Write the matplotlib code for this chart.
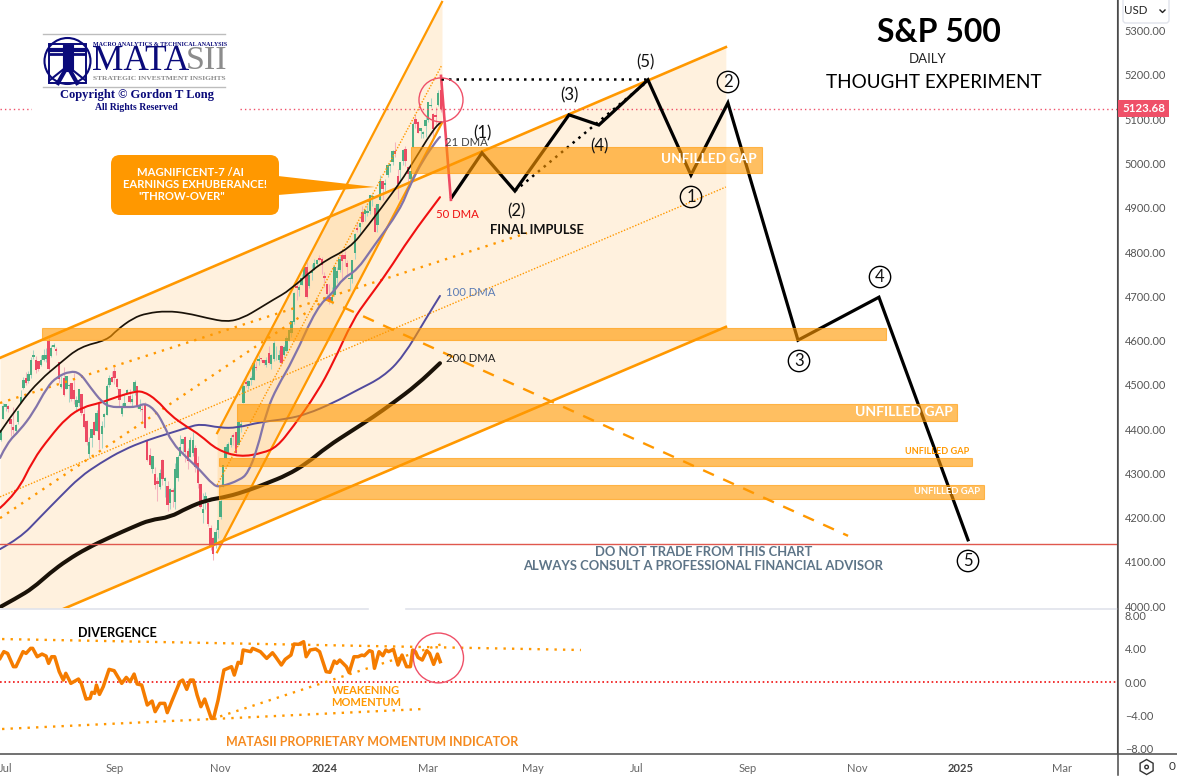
import matplotlib
matplotlib.use("Agg")
import matplotlib.pyplot as plt
from matplotlib.patches import Rectangle, Ellipse, Circle, Polygon, FancyBboxPatch, RegularPolygon, PathPatch
from matplotlib.path import Path
from matplotlib.transforms import Affine2D

plt.rcParams['font.family'] = ['Lato', 'DejaVu Sans']

# ---------------- data (x = session number, y = price) ----------------
opens = [4367,4375,4422,4450,4450,4422,4404,4395,4416,4459,4492,4514,4508,4522,4563,4554,4552,4544,4556,4558,4598,4565,4585,4579,4550,4495,4514,4491,4498,4502,4488,4450,4459,4478,4433,4416,4344,4381,4415,4396,4456,4389,4427,4433,4500,4517,4530,4511,4490,4434,4451,4480,4473,4462,4487,4497,4445,4445,4452,4374,4341,4310,4297,4282,4270,4328,4284,4269,4233,4260,4235,4289,4339,4366,4380,4350,4338,4345,4357,4322,4274,4210,4235,4232,4176,4152,4140,4172,4201,4269,4334,4346,4365,4385,4391,4365,4406,4458,4505,4497,4510,4512,4539,4553,4560,4554,4546,4571,4548,4559,4569,4557,4586,4567,4576,4600,4618,4642,4722,4714,4725,4744,4765,4724,4753,4759,4773,4786,4782,4745,4726,4698,4690,4703,4741,4760,4792,4791,4773,4739,4739,4797,4853,4856,4888,4886,4889,4892,4925,4899,4862,4917,4958,4951,4973,4995,5004,5026,4970,4986,5006,5031,4990,4964,5038,5100,5093,5074,5067,5085,5098,5130,5110,5109,5132,5164]
highs = [4377,4398,4458,4457,4454,4423,4449,4412,4443,4488,4517,4528,4532,4563,4578,4565,4555,4567,4582,4583,4607,4590,4595,4585,4551,4520,4540,4519,4502,4503,4527,4476,4491,4479,4449,4421,4382,4401,4419,4444,4459,4419,4437,4501,4522,4532,4541,4516,4491,4458,4480,4491,4491,4479,4511,4498,4467,4457,4461,4375,4357,4339,4315,4292,4311,4333,4291,4282,4268,4268,4324,4341,4386,4378,4385,4357,4383,4394,4364,4339,4276,4256,4259,4233,4183,4156,4177,4195,4245,4318,4366,4372,4386,4391,4393,4415,4421,4503,4521,4511,4521,4557,4554,4568,4561,4555,4562,4587,4570,4600,4587,4579,4590,4590,4610,4623,4643,4709,4739,4726,4750,4768,4778,4749,4772,4785,4785,4794,4789,4754,4729,4727,4721,4765,4766,4791,4798,4803,4782,4745,4783,4842,4868,4866,4903,4898,4907,4929,4932,4907,4907,4975,4958,4965,5000,5000,5030,5048,4987,5002,5032,5039,4994,4983,5093,5111,5097,5080,5074,5104,5140,5149,5114,5127,5166,5189]
lows = [4362,4374,4422,4442,4438,4385,4390,4390,4412,4458,4490,4499,4504,4516,4558,4527,4531,4543,4555,4552,4528,4564,4584,4567,4505,4494,4474,4491,4461,4463,4457,4444,4453,4432,4403,4364,4335,4360,4386,4396,4356,4357,4404,4431,4496,4507,4501,4491,4453,4430,4449,4480,4459,4449,4478,4447,4442,4416,4401,4329,4316,4302,4264,4238,4264,4274,4246,4216,4220,4225,4219,4283,4339,4345,4325,4311,4338,4339,4303,4268,4223,4189,4219,4181,4127,4104,4132,4153,4198,4269,4334,4345,4360,4365,4344,4364,4393,4458,4495,4491,4499,4510,4533,4546,4554,4545,4540,4547,4537,4554,4557,4552,4546,4565,4574,4599,4608,4637,4691,4700,4725,4743,4697,4719,4737,4759,4769,4780,4751,4722,4699,4682,4682,4700,4730,4756,4740,4769,4748,4715,4731,4785,4845,4842,4865,4870,4881,4887,4904,4845,4845,4917,4918,4937,4970,4980,4997,5015,4921,4957,4997,4995,4955,4946,5038,5081,5068,5057,5057,5061,5094,5128,5056,5086,5131,5117]
closes = [4376,4396,4450,4455,4446,4411,4399,4409,4439,4472,4510,4505,4522,4555,4565,4534,4536,4554,4567,4566,4537,4582,4588,4576,4513,4501,4478,4518,4499,4467,4468,4464,4489,4437,4404,4370,4369,4399,4387,4436,4376,4405,4433,4497,4514,4507,4515,4496,4465,4451,4457,4487,4461,4467,4505,4450,4453,4443,4402,4330,4320,4337,4274,4275,4300,4288,4288,4229,4263,4258,4309,4336,4358,4377,4349,4327,4373,4373,4315,4278,4224,4217,4248,4186,4137,4117,4166,4194,4237,4317,4358,4365,4378,4383,4347,4415,4411,4496,4502,4508,4514,4547,4538,4556,4559,4550,4554,4550,4567,4594,4569,4567,4549,4585,4604,4622,4643,4707,4719,4719,4740,4768,4698,4746,4755,4774,4781,4783,4770,4742,4705,4688,4697,4764,4756,4783,4780,4784,4766,4739,4781,4840,4850,4864,4868,4894,4891,4928,4925,4846,4906,4959,4942,4954,4995,4998,5026,5022,4953,5001,5030,5006,4976,4982,5087,5089,5070,5078,5070,5096,5137,5131,5079,5105,5157,5123]

ma_black_x = [0.8,8.7,16.6,24.5,32.4,43.1,47,53.4,58.9,66.8,74.7,82.6,90.5,96.8,103.6,108.7,115.4,127.3,139.1,145.9,157.7,162.9,171.9,175.1]
ma_black_y = [4393,4459,4511,4549,4586,4601,4624,4651,4662,4667,4662,4651,4642,4651,4674,4692,4714,4775,4809,4857,4947,4992,5076,5094]
ma_21_x = [0.8,3.6,8.7,13.8,19.4,23.3,28.5,32.4,36.4,41.1,44.3,49.4,54.9,58.1,62.1,65.2,68.8,74.7,79.8,85,87.7,95.6,98.8,102.4,106.3,110.3,116.6,126.1,132.4,136.4,141.9,148.2,158.9,162.9,168,173.5,174.7]
ma_21_y = [4335,4369,4398,4436,4495,4518,4531,4527,4495,4461,4450,4450,4450,4459,4443,4414,4369,4335,4308,4274,4269,4285,4301,4353,4443,4495,4556,4676,4708,4741,4759,4811,4895,4952,5008,5053,5060]
ma_50_x = [0.8,7.5,13.8,20.5,27.3,33.6,40.3,47,53.4,57.3,62.8,68,74.7,79.8,86.6,95.6,104.7,110.3,116.6,126.1,132.4,140.3,145.9,153.8,162.9,174.7]
ma_50_y = [4222,4256,4330,4382,4427,4450,4459,4473,4484,4486,4466,4432,4405,4387,4353,4337,4346,4360,4405,4482,4549,4647,4692,4753,4834,4924]
ma_100_x = [0.8,8.7,16.6,24.5,32.4,40.3,49.4,58.9,66.8,74.7,79.8,87.7,94.5,103.6,114.2,122.1,132.4,141.9,152.2,160.1,169.5,174.7]
ma_100_y = [4129,4154,4201,4247,4292,4323,4353,4375,4389,4403,4412,4403,4403,4416,4423,4434,4459,4488,4518,4563,4653,4701]
ma_200_x = [0.8,7.5,13.8,20.5,27.3,35.2,44.3,53.4,60.1,68,74.7,82.6,90.5,99.6,106.3,114.2,122.1,130,140.3,148.2,156.1,165.6,174.7]
ma_200_y = [3998,4019,4041,4075,4104,4131,4156,4179,4195,4201,4222,4240,4247,4263,4278,4296,4323,4360,4398,4427,4459,4500,4549]

path_x = [179.4,191.3,204.3,225.7,237.5,256.9,273.9,288.5,316.2,348.2,383.4]
path_y = [4924,5024,4938,5110,5087,5189,4974,5137,4601,4698,4150]
drop_x = [175.1,179]
drop_y = [5198,4918]

channel_x = [0.8,287.7]
channel_up = [4561,5263]
channel_mid = [4247,4947]
channel_lo = [3933,4631]
steep_x = [86.6,175.5]
steep_up = [4391,5365]
steep_mid = [4274,5223]
steep_lo = [4122,5092]
dot_b_x = [0.8,209.1]; dot_b_y = [4459,4843]
dot_c_x = [0.8,130.4]; dot_c_y = [4199,4696]
dash_x = [128.5,336]; dash_y = [4696,4159]
top_dot_x = [175.1,256.9]; top_dot_y = [5191,5191]
diag_dot_x = [204.3,255.5]; diag_dot_y = [4938,5180]

gap_x0 = [17.4,163.2,94.5,87.4,87.4]
gap_x1 = [351,302,379,385,389.7]
gap_lo = [4601,4979,4418,4317,4242]
gap_hi = [4628.5,5037,4457,4335,4274]

last_price = 5123.68
support = 4141.6
price_ticks = [4000,4100,4200,4300,4400,4500,4600,4700,4800,4900,5000,5100,5200,5300]
mom_ticks = [-8,-4,0,4,8]
time_ticks = [3,46,88,129,170,211.5,252.6,296.4,339.5,380.6,420.4]
time_labels = ['Jul','Sep','Nov','2024','Mar','May','Jul','Sep','Nov','2025','Mar']

mom_x = [0.8,2.3,3.8,6.1,7.1,9.9,11.1,12.9,13.7,15.5,17.4,19.0,20.0,21.2,22.4,24.2,25.8,26.8,28.8,31.8,32.9,34.8,36.4,37.1,38.2,38.9,40.1,41.6,43.9,45.9,48.9,50.7,52.2,53.8,55.0,56.8,59.0,60.9,62.1,64.0,65.9,66.9,68.9,71.9,73.0,74.6,76.0,77.2,78.7,80.2,81.7,84.3,85.2,87.0,89.3,92.3,93.4,94.9,96.1,96.9,99.9,100.6,102.2,103.7,106.2,108.5,109.7,112.0,113.5,115.8,117.0,118.8,120.8,121.8,123.4,125.6,127.1,129.7,131.2,132.9,133.9,135.1,137.7,138.8,140.7,142.3,143.8,144.8,146.8,147.9,148.8,150.6,152.1,153.3,154.4,156.3,158.1,159.7,161.5,163.0,163.9,165.0,166.0,167.7,169.5,170.6,172.2,173.7,174.8]
mom_y = [2.85,3.66,3.45,1.85,1.85,3.66,3.45,4.06,4.06,3.05,3.37,3.13,2.25,3.05,3.05,1.25,0.24,1.05,-0.16,0.36,-0.16,-2.05,-1.97,-1.24,-1.36,-0.36,-1.49,-0.56,1.53,1.37,-0.16,0.56,0.04,0.96,-0.24,-0.36,-2.77,-2.29,-3.57,-2.57,-2.57,-3.69,-2.17,0.04,0.24,-0.88,0.24,0.24,-1.57,-2.97,-2.05,-4.38,-4.38,-2.17,1.45,1.85,0.84,2.37,2.25,3.86,3.66,4.06,3.86,3.66,2.85,3.53,3.05,2.05,2.73,3.25,4.58,4.54,4.86,3.05,3.86,3.98,3.66,1.25,1.17,2.53,2.25,2.65,1.85,1.13,3.05,3.05,3.25,3.17,3.78,3.66,1.65,3.66,3.17,3.86,3.66,3.94,2.05,3.25,1.85,1.85,3.86,3.66,2.97,2.65,3.78,3.45,2.13,3.37,2.45]
mom_top_x = [1.6,230.4]; mom_top_y = [5.18,3.86]
mom_bot_x = [1.6,168]; mom_bot_y = [-5.66,-3.25]
mom_rise_x = [84.6,176.7]; mom_rise_y = [-4.46,4.7]

# ---------------- colours ----------------
ORANGE = '#ff9800'
UP, DOWN = '#4bae83', '#ec4a63'
UPW, DOWNW = '#a5d6c6', '#f5b3bd'

W, H = 1177, 781
fig = plt.figure(figsize=(W/100, H/100), dpi=100, facecolor='white')
ax = fig.add_axes([0, 1-608/H, 1117/W, 608/H])
axm = fig.add_axes([0, 28/H, 1117/W, 144/H])
pxT = Affine2D().scale(1, -1).translate(0, H)

def setup(a):
    a.set_xlim(0.79, 442.3)
    for s in ['top','left','bottom']:
        a.spines[s].set_visible(False)
    a.spines['right'].set_color('#4a4a4a')
    a.yaxis.tick_right()
    a.tick_params(axis='y', length=0, pad=5.5, labelsize=7.9, labelcolor='#555555')
    a.tick_params(axis='x', length=0)
setup(ax); setup(axm)
ax.set_ylim(3996, 5369.4)
axm.set_ylim(-8.55, 8.8)
ax.set_xticks([])
ax.set_yticks(price_ticks, [f'{v:.2f}' for v in price_ticks])
axm.set_yticks(mom_ticks, [f'{v:.2f}'.replace('-', '\u2212') for v in mom_ticks])
axm.set_xticks(time_ticks, time_labels)
axm.tick_params(axis='x', pad=7.5, labelsize=8, labelcolor='#666666')
for t, l in zip(axm.get_xticklabels(), time_labels):
    if l.startswith('20'):
        t.set_fontweight('bold'); t.set_color('#444444')

# fills
ax.fill_between(channel_x, channel_lo, channel_up, color=ORANGE, alpha=0.13, lw=0, zorder=1)
ax.fill_between(steep_x, steep_lo, steep_up, color=ORANGE, alpha=0.14, lw=0, zorder=1)

# candles
xs = list(range(len(closes)))
up = [c >= o for o, c in zip(opens, closes)]
ax.vlines(xs, lows, highs, colors=[UPW if u else DOWNW for u in up], lw=0.75, zorder=2)
ax.bar(xs, [abs(c-o) + 1.5 for o, c in zip(opens, closes)], bottom=[min(o, c) for o, c in zip(opens, closes)],
       width=0.95, color=[UP if u else DOWN for u in up], lw=0, zorder=3)

# channels and dotted guides
dot = (0, (1, 2.6))
ax.plot(channel_x, channel_up, color=ORANGE, lw=1.9, zorder=4)
ax.plot(channel_x, channel_lo, color=ORANGE, lw=1.9, zorder=4)
ax.plot(channel_x, channel_mid, color=ORANGE, lw=1.0, ls=(0, (1, 1.2)), zorder=4)
ax.plot(steep_x, steep_up, color=ORANGE, lw=1.6, zorder=4)
ax.plot(steep_x, steep_lo, color=ORANGE, lw=1.6, zorder=4)
ax.plot(steep_x, steep_mid, color=ORANGE, lw=1.0, ls=(0, (1, 1.2)), zorder=4)
ax.plot(dot_b_x, dot_b_y, color=ORANGE, lw=1.7, ls=dot, zorder=4)
ax.plot(dot_c_x, dot_c_y, color=ORANGE, lw=1.7, ls=dot, zorder=4)
ax.plot(dash_x, dash_y, color=ORANGE, lw=1.7, ls=(0, (5, 4.3)), zorder=4)

# moving averages, stroked as curves through the values
def curve(a, xv, yv, **kw):
    verts, codes = [(xv[0], yv[0])], [Path.MOVETO]
    for i in range(1, len(xv) - 1):
        verts += [(xv[i], yv[i]), ((xv[i] + xv[i+1]) / 2, (yv[i] + yv[i+1]) / 2)]
        codes += [Path.CURVE3, Path.CURVE3]
    verts.append((xv[-1], yv[-1])); codes.append(Path.LINETO)
    a.add_patch(PathPatch(Path(verts, codes), fc='none', capstyle='round', **kw))

curve(ax, ma_200_x, ma_200_y, ec='#1a1208', lw=2.9, zorder=5)
curve(ax, ma_100_x, ma_100_y, ec='#514a9d', lw=1.4, zorder=5)
curve(ax, ma_50_x, ma_50_y, ec='#f01010', lw=1.5, zorder=5)
curve(ax, ma_21_x, ma_21_y, ec='#8274aa', lw=1.6, zorder=5)
curve(ax, ma_black_x, ma_black_y, ec='#1a1208', lw=1.25, zorder=5)

# levels
ax.axhline(support, color='#e0584e', lw=1, zorder=5)
ax.axhline(last_price, color='#ef5068', lw=1, ls=(0, (1, 2.2)), zorder=5)

# projection
ax.plot(path_x, path_y, color='black', lw=2.3, zorder=6, solid_joinstyle='miter')
ax.plot(drop_x, drop_y, color='#ef4a63', lw=1.9, zorder=6)
ax.plot(top_dot_x, top_dot_y, color='black', lw=1.8, ls=(0, (1, 2)), zorder=6)
ax.plot(diag_dot_x, diag_dot_y, color='black', lw=1.8, ls=(0, (1, 2)), zorder=6)

ax.add_patch(Ellipse((175.1, last_price+20), 17.4, 99.4, fc='none', ec='#ef5068', lw=1, zorder=7))

# gap bands
for x0, x1, lo, hi in zip(gap_x0, gap_x1, gap_lo, gap_hi):
    ax.add_patch(Rectangle((x0, lo), x1-x0, hi-lo, fc=ORANGE, ec=ORANGE, alpha=0.62, lw=0.8, zorder=8))

# momentum panel
axm.axhline(0, color='#f01010', lw=1.2, ls=(0, (1, 1.6)), zorder=1)
axm.plot(mom_top_x, mom_top_y, color=ORANGE, lw=1.7, ls=dot, zorder=2)
axm.plot(mom_bot_x, mom_bot_y, color=ORANGE, lw=1.7, ls=dot, zorder=2)
axm.plot(mom_rise_x, mom_rise_y, color=ORANGE, lw=1.7, ls=dot, zorder=2)
axm.plot(mom_x, mom_y, color='#f57c00', lw=2.5, zorder=3, solid_joinstyle='round')
axm.add_patch(Ellipse((174.1, 2.9), 19.8, 6.0, fc='none', ec='#ef5068', lw=1, zorder=4))

def T(x, y, s, size, color='black', weight='normal', ha='center', family=None, z=20):
    kw = dict(fontfamily=family) if family else {}
    return fig.text(x, y, s, transform=pxT, fontsize=size, color=color, fontweight=weight,
                    ha=ha, va='center', zorder=z, **kw)

# frame lines
fig.add_artist(plt.Line2D([0, 368], [608.5, 608.5], transform=pxT, color='#e0e3eb', lw=1.2))
fig.add_artist(plt.Line2D([406, 1117], [608.5, 608.5], transform=pxT, color='#e0e3eb', lw=1.2))
fig.add_artist(plt.Line2D([0, 1177], [753.5, 753.5], transform=pxT, color='#4a4a4a', lw=1.1))
fig.add_artist(plt.Line2D([1117.5, 1117.5], [0, 775], transform=pxT, color='#4a4a4a', lw=1.1))

# price tag
fig.add_artist(Rectangle((1118, 100), 51, 16.7, transform=pxT, fc='#ef5068', ec='none', zorder=15))
T(1144, 108.5, '5123.68', 8.3, 'white', 'bold')

# USD button
fig.add_artist(FancyBboxPatch((1123, -5), 46, 28, boxstyle='round,pad=0,rounding_size=3', transform=pxT,
                              fc='white', ec='#e0e3eb', lw=1, zorder=15))
T(1136, 11, 'USD', 8.3, '#222222')
fig.add_artist(plt.Line2D([1160, 1162.5, 1165], [10, 12.5, 10], transform=pxT, color='#222222', lw=1, zorder=16))
fig.add_artist(RegularPolygon((1146.6, 767), 6, radius=7.5, transform=pxT, fc='none', ec='#333333', lw=1, zorder=16))
fig.add_artist(Circle((1146.6, 767), 1.8, transform=pxT, fc='none', ec='#333333', lw=1, zorder=16))
T(1169, 767, '0', 8.5, '#333333', ha='left')

# titles
T(939, 32, 'S&P 500', 23, 'black', 'bold')
T(928, 59, 'DAILY', 9.5, '#222222')
T(934, 82, 'THOUGHT EXPERIMENT', 13.6, 'black')

# logo
fig.add_artist(Rectangle((32, 30), 208, 88, transform=pxT, fc='white', ec='none', zorder=10))
navy, serif = '#0a0a7a', 'Liberation Serif'
for yy in (34, 87):
    fig.add_artist(plt.Line2D([43, 225], [yy, yy], transform=pxT, color='#bdbdbd', lw=1, zorder=11))
fig.add_artist(Circle((67.5, 61), 23, transform=pxT, fc='none', ec=navy, lw=1.5, zorder=11))
fig.add_artist(Rectangle((49, 44), 37, 39, transform=pxT, fc='none', ec=navy, lw=1.4, zorder=11))
for xa, ya, xb, yb, lw in [(50, 50, 85, 50, 3), (50, 54, 85, 54, 2), (67.5, 50, 67.5, 66, 8),
                           (67.5, 66, 58, 83, 3), (67.5, 66, 77, 83, 3), (67.5, 66, 50, 80, 1.5), (67.5, 66, 85, 80, 1.5)]:
    fig.add_artist(plt.Line2D([xa, xb], [ya, yb], transform=pxT, color=navy, lw=lw, zorder=11))
T(93, 45, 'MACRO ANALYTICS & TECHNICAL ANALYSIS', 4.3, navy, 'bold', 'left', serif)
T(92, 61, 'MATA', 25.5, navy, 'normal', 'left', serif)
T(186, 61, 'SII', 24.5, '#8c8c8c', 'normal', 'left', serif)
T(93, 78.5, 'STRATEGIC INVESTMENT INSIGHTS', 5.4, '#8c8c8c', 'bold', 'left', serif)
T(137, 95, 'Copyright \u00a9 Gordon T Long', 9, navy, 'bold', 'center', serif)
T(136, 108, 'All Rights Reserved', 7, navy, 'bold', 'center', serif)

# callout
fig.add_artist(Polygon([(278, 176), (375, 187), (278, 195)], transform=pxT, fc=ORANGE, ec='none', zorder=12))
fig.add_artist(FancyBboxPatch((111, 155), 168, 60, boxstyle='round,pad=0,rounding_size=9', transform=pxT,
                              fc=ORANGE, ec='none', zorder=12))
T(190, 173, 'MAGNIFICENT-7 /AI', 8.1, 'white', 'bold')
T(195, 185, 'EARNINGS EXHUBERANCE!', 8.1, 'white', 'bold')
T(182, 197, '"THROW-OVER"', 8.1, 'white', 'bold')

# MA labels
T(445, 142, '21 DMA', 8.2, '#444444', ha='left')
T(436, 214, '50 DMA', 8.2, '#f01010', ha='left')
T(446, 293, '100 DMA', 8.2, '#5b7cb5', ha='left')
T(446, 358, '200 DMA', 8.2, '#222222', ha='left')
T(537, 230, 'FINAL IMPULSE', 9.3, '#111111', 'bold')

# wave labels
for x, y, s in [(482, 133, '(1)'), (516, 211, '(2)'), (569, 95, '(3)'), (599, 146, '(4)'), (645, 62, '(5)')]:
    T(x, y, s, 12, '#111111')
for x, y, s in [(691, 197, '1'), (728, 82, '2'), (799, 361, '3'), (880, 277, '4'), (968, 561, '5')]:
    t = T(x, y, s, 12, '#111111')
    t.set_bbox(dict(boxstyle='circle,pad=0.16', fc='none', ec='black', lw=1))

# gap labels
T(709, 159, 'UNFILLED GAP', 9.7, 'white', 'bold')
T(904, 412, 'UNFILLED GAP', 10, 'white', 'bold')
T(937, 451, 'UNFILLED GAP', 6.6, ORANGE, 'bold')
T(947, 492, 'UNFILLED GAP', 6.8, 'white', 'bold')

# notices
T(704, 552, 'DO NOT TRADE FROM THIS CHART', 9.4, '#5d7487', 'bold')
T(703, 566, 'ALWAYS CONSULT A PROFESSIONAL FINANCIAL ADVISOR', 9.4, '#5d7487', 'bold')

# panel labels
T(117, 633, 'DIVERGENCE', 9, 'black', 'bold')
T(366, 690, 'WEAKENING', 8, ORANGE, 'bold')
T(366, 703, 'MOMENTUM', 8, ORANGE, 'bold')
T(372, 742, 'MATASII PROPRIETARY MOMENTUM INDICATOR', 9, '#f58a1f', 'bold')

fig.savefig('out.png', dpi=100, facecolor='white')
